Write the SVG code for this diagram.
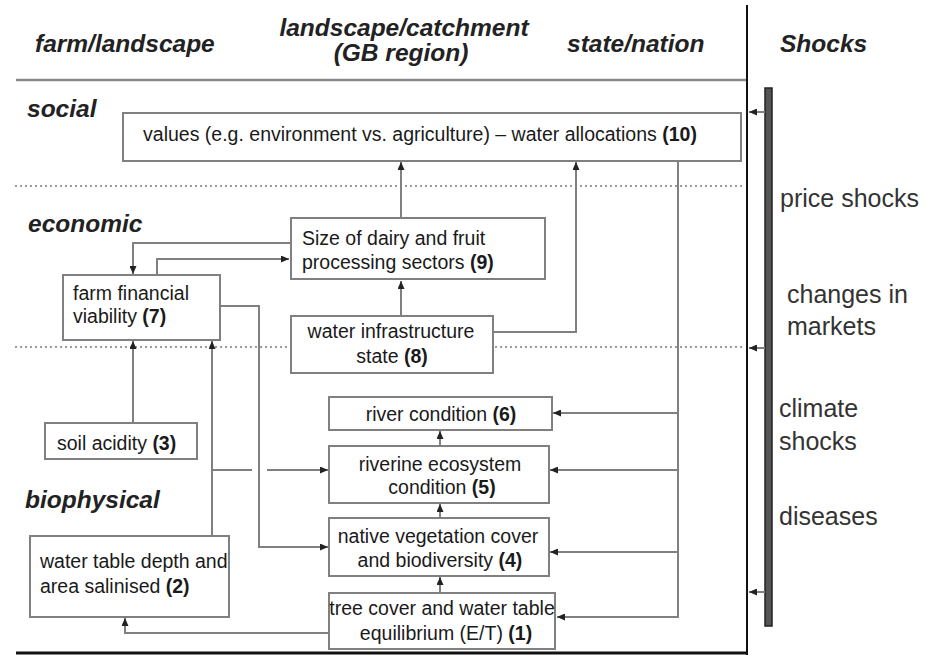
<svg xmlns="http://www.w3.org/2000/svg" width="939" height="655" viewBox="0 0 939 655">
<style>
.box{fill:#fff;stroke:#808080;stroke-width:2}
.con{fill:none;stroke:#808080;stroke-width:2}
.ar{marker-end:url(#ah)}
.t{font-family:"Liberation Sans",Arial,sans-serif;font-size:19.5px;fill:#1a1a1a}
.m{text-anchor:middle}
.b{font-weight:bold}
.h{font-family:"Liberation Sans",Arial,sans-serif;font-size:24.5px;font-weight:bold;font-style:italic;fill:#222}
.s{font-family:"Liberation Sans",Arial,sans-serif;font-size:25px;fill:#333}
.dot{stroke:#9a9a9a;stroke-width:2;stroke-dasharray:2 3;fill:none}
</style>
<defs>
<marker id="ah" markerUnits="userSpaceOnUse" markerWidth="8" markerHeight="7" refX="8" refY="3.5" orient="auto">
<path d="M0,0 L8,3.5 L0,7 z" fill="#222"/>
</marker>
</defs>
<rect width="939" height="655" fill="#fff"/>
<g id="frame">
<line x1="16" y1="80" x2="746" y2="80" stroke="#8a8a8a" stroke-width="2.5"/>
<line x1="747" y1="5" x2="747" y2="655" stroke="#111" stroke-width="2"/>
<line x1="16" y1="653" x2="747" y2="653" stroke="#111" stroke-width="3"/>
<line x1="15" y1="186" x2="745" y2="186" class="dot"/>
<line x1="15" y1="347" x2="745" y2="347" class="dot"/>
<rect x="765" y="88" width="7" height="538" fill="#555" stroke="#222" stroke-width="1.5"/>
</g>
<g id="headers">
<text class="h" x="35" y="52">farm/landscape</text>
<text class="h m" x="404" y="36">landscape/catchment</text>
<text class="h m" x="401" y="61">(GB region)</text>
<text class="h" x="567" y="52">state/nation</text>
<text class="h" x="780" y="52">Shocks</text>
<text class="h" x="27" y="117">social</text>
<text class="h" x="28" y="232">economic</text>
<text class="h" x="25" y="508">biophysical</text>
</g>
<g id="shocks">
<text class="s" x="780" y="207">price shocks</text>
<text class="s" x="787" y="303">changes in</text>
<text class="s" x="787" y="335">markets</text>
<text class="s" x="779" y="417">climate</text>
<text class="s" x="779" y="450">shocks</text>
<text class="s" x="779" y="525">diseases</text>
</g>
<g id="connectors">
<path class="con ar" d="M401,218 V162"/>
<path class="con ar" d="M493,332 H576 V162"/>
<path class="con ar" d="M401,316 V281"/>
<path class="con ar" d="M291,243 H133 V274"/>
<path class="con ar" d="M157,275 V259 H289"/>
<path class="con ar" d="M220,306 H259 V547 H328"/>
<path class="con ar" d="M133,423 V341"/>
<path class="con ar" d="M212,536 V341"/>
<path class="con" d="M212,470 H252"/>
<path class="con ar" d="M267,470 H328"/>
<path class="con ar" d="M330,633 H125 V618"/>
<path class="con ar" d="M678,161 V617 H557"/>
<path class="con ar" d="M678,413 H553"/>
<path class="con ar" d="M678,470 H550"/>
<path class="con ar" d="M678,552 H550"/>
<path class="con ar" d="M440,446 V431"/>
<path class="con ar" d="M440,518 V504"/>
<path class="con ar" d="M440,593 V577"/>
<path class="con ar" d="M765,112 H749"/>
<path class="con ar" d="M765,348 H749"/>
<path class="con ar" d="M765,592 H749"/>
</g>
<g id="n10">
<rect class="box" x="123" y="113" width="618" height="48"/>
<text class="t m" x="420" y="141">values (e.g. environment vs. agriculture) – water allocations <tspan class="b">(10)</tspan></text>
</g>
<g id="n9">
<rect class="box" x="291" y="218" width="254" height="61"/>
<text class="t" x="302" y="245">Size of dairy and fruit</text>
<text class="t" x="302" y="269">processing sectors <tspan class="b">(9)</tspan></text>
</g>
<g id="n8">
<rect class="box" x="291" y="316" width="202" height="57"/>
<text class="t m" x="391" y="338">water infrastructure</text>
<text class="t m" x="392" y="363">state <tspan class="b">(8)</tspan></text>
</g>
<g id="n7">
<rect class="box" x="63" y="275" width="157" height="65"/>
<text class="t" x="73" y="300">farm financial</text>
<text class="t" x="73" y="323">viability <tspan class="b">(7)</tspan></text>
</g>
<g id="n3">
<rect class="box" x="45" y="423" width="152" height="36"/>
<text class="t" x="57" y="450">soil acidity <tspan class="b">(3)</tspan></text>
</g>
<g id="n2">
<rect class="box" x="30" y="536" width="199" height="81"/>
<text class="t" x="40" y="568">water table depth and</text>
<text class="t" x="40" y="593">area salinised <tspan class="b">(2)</tspan></text>
</g>
<g id="n6">
<rect class="box" x="329" y="397" width="223" height="33"/>
<text class="t m" x="441" y="421">river condition <tspan class="b">(6)</tspan></text>
</g>
<g id="n5">
<rect class="box" x="329" y="446" width="220" height="57"/>
<text class="t m" x="440" y="471">riverine ecosystem</text>
<text class="t m" x="442" y="494">condition <tspan class="b">(5)</tspan></text>
</g>
<g id="n4">
<rect class="box" x="329" y="518" width="220" height="58"/>
<text class="t m" x="438" y="543">native vegetation cover</text>
<text class="t m" x="440" y="567">and biodiversity <tspan class="b">(4)</tspan></text>
</g>
<g id="n1">
<rect class="box" x="329" y="593" width="226" height="56"/>
<text class="t m" x="442" y="615">tree cover and water table</text>
<text class="t m" x="446" y="640">equilibrium (E/T) <tspan class="b">(1)</tspan></text>
</g>
</svg>
